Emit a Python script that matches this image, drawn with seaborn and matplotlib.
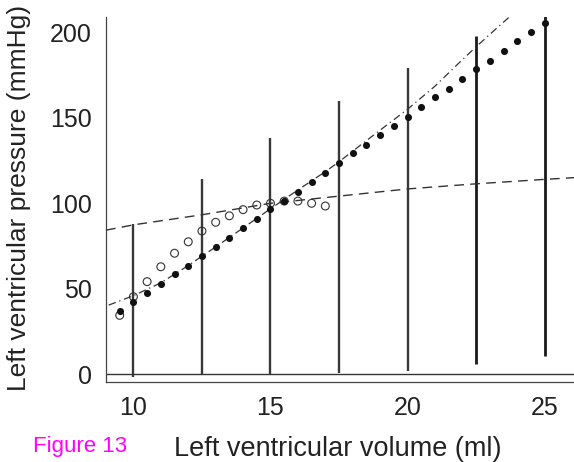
import matplotlib
matplotlib.use("Agg")
import matplotlib.pyplot as plt
import seaborn as sns
import pandas as pd

# ---- data ----
vol_filled = [9.5, 10, 10.5, 11, 11.5, 12, 12.5, 13, 13.5, 14, 14.5, 15, 15.5, 16,
              16.5, 17, 17.5, 18, 18.5, 19, 19.5, 20, 20.5, 21, 21.5, 22, 22.5, 23,
              23.5, 24, 24.5, 25]
p_filled = [37.2, 42.3, 47.7, 52.8, 58.7, 63.5, 69.4, 74.4, 79.9, 85.7, 90.6, 96.5,
            101.5, 106.8, 112.6, 117.9, 123.7, 129.2, 134.3, 139.9, 145.0, 150.6,
            156.3, 162.0, 167.0, 172.7, 178.4, 183.4, 189.1, 194.7, 200.4, 205.6]

vol_open = [9.5, 10, 10.5, 11, 11.5, 12, 12.5, 13, 13.5, 14, 14.5, 15, 15.5, 16, 16.5, 17]
p_open = [34.5, 45.4, 54.2, 62.9, 70.8, 77.5, 83.8, 88.9, 92.7, 96.3, 99.0, 100.0,
          101.3, 101.3, 100.0, 98.4]

dash_x = [9.0, 10, 12.5, 15, 17.5, 20, 22.5, 25, 26.07]
dash_y = [84.3, 87.4, 93.3, 100.0, 104.2, 108.4, 111.4, 114.0, 115.0]

dd_x = [9.1, 10, 11, 12, 13, 14, 15, 16, 17, 17.5, 18, 19, 20, 21, 22, 22.5, 23, 23.75]
dd_y = [40.5, 46.0, 53.5, 63.6, 74.5, 85.6, 96.8, 107.8, 118.5, 124.3, 130.5, 142.8,
        155.0, 168.5, 184.0, 191.5, 198.8, 209.5]

bar_x = [10, 12.5, 15, 17.5, 20, 22.5, 25]
bar_lo = [-1.8, 0, 0, 0.5, 2.0, 6.0, 10.5]
bar_hi = [87.7, 114.5, 138.0, 160.0, 179.3, 197.8, 209.5]

x_ticks = [10, 15, 20, 25]
y_ticks = [0, 50, 100, 150, 200]

# ---- styling ----
sns.set_style("white")
plt.rcParams["font.family"] = ["Liberation Sans", "DejaVu Sans"]

fig = plt.figure(figsize=(5.74, 4.62), dpi=100)
ax = fig.add_axes([106 / 574, 1 - 381.7 / 462, 468 / 574, 365 / 462])

df_f = pd.DataFrame({"v": vol_filled, "p": p_filled})
df_o = pd.DataFrame({"v": vol_open, "p": p_open})
df_d = pd.DataFrame({"v": dash_x, "p": dash_y})
df_dd = pd.DataFrame({"v": dd_x, "p": dd_y})

ax.axhline(0, color="#333333", lw=1.0, zorder=1)

bar_colors = ["#383838"] * 5 + ["#1a1a1a"] * 2
bar_lw = [1.7] * 5 + [2.0] * 2
for x, lo, hi, c, lw in zip(bar_x, bar_lo, bar_hi, bar_colors, bar_lw):
    ax.vlines(x, lo, hi, color=c, lw=lw, zorder=2)

sns.lineplot(data=df_d, x="v", y="p", ax=ax, color="#333333", lw=1.0,
             linestyle=(0, (7, 4.5)), sort=False, zorder=3)
sns.lineplot(data=df_dd, x="v", y="p", ax=ax, color="#333333", lw=0.9,
             linestyle=(0, (6, 3, 1, 3)), sort=False, zorder=3)

sns.scatterplot(data=df_o, x="v", y="p", ax=ax, marker="o", s=32,
                facecolor="none", edgecolor="#333333", linewidth=0.8, zorder=4)
sns.scatterplot(data=df_f, x="v", y="p", ax=ax, marker="o", s=26,
                color="#111111", edgecolor="#111111", linewidth=0, zorder=5)

ax.set_xlim(9.0, 26.07)
ax.set_ylim(-4.3, 209.1)
ax.set_xticks(x_ticks)
ax.set_yticks(y_ticks)
ax.set_xticklabels([str(t) for t in x_ticks])
ax.set_yticklabels([str(t) for t in y_ticks])

for s in ["top", "right"]:
    ax.spines[s].set_visible(False)
for s in ["left", "bottom"]:
    ax.spines[s].set_color("#444444")
    ax.spines[s].set_linewidth(0.9)

ax.tick_params(direction="in", length=3.3, width=0.8, color="#444444",
               labelsize=18, labelcolor="#222222")
ax.tick_params(axis="y", pad=10)
ax.tick_params(axis="x", pad=10.5)

ax.set_xlabel("Left ventricular volume (ml)", fontsize=19.5, color="#222222",
              va="baseline")
ax.xaxis.set_label_coords(0.496, (381.7 - 456) / 365)
ax.set_ylabel("Left ventricular pressure (mmHg)", fontsize=19, color="#222222")
ax.yaxis.set_label_coords((31 - 106) / 468, (381.7 - 198) / 365)

fig.text(33 / 574, 1 - 451.7 / 462, "Figure 13", color="#ff00ff", fontsize=16,
         ha="left", va="baseline")

fig.savefig("out.png", dpi=100)
